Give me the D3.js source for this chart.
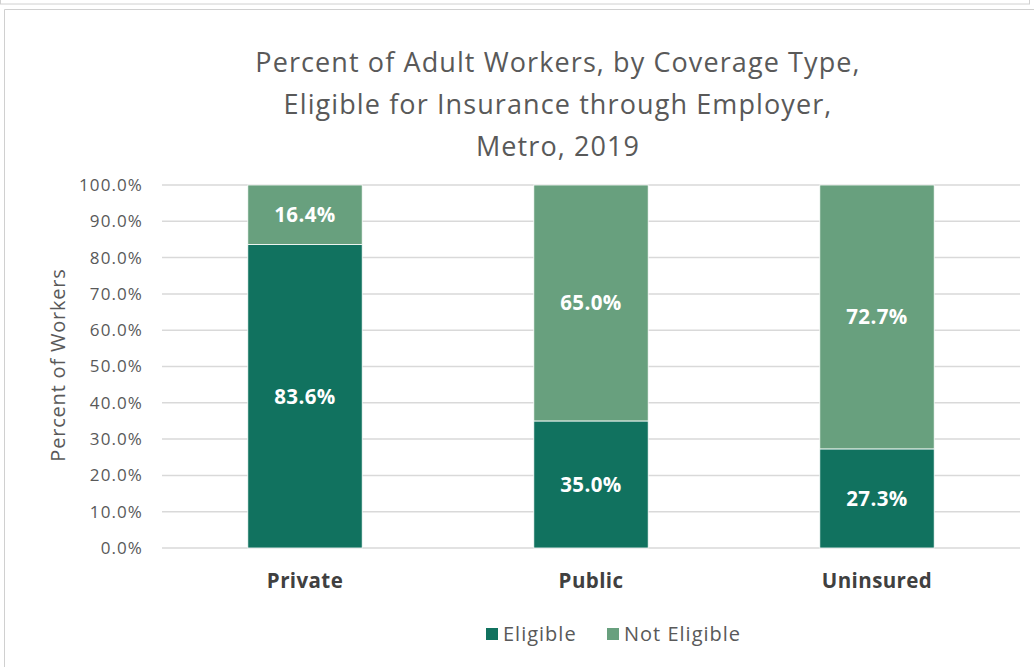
<!DOCTYPE html>
<html>
<head>
<meta charset="utf-8">
<script src="https://cdn.jsdelivr.net/npm/d3@7"></script>
<style>
  body { margin: 0; background: #fff; }
  svg text { font-family: "Open Sans", "Noto Sans", sans-serif; }
</style>
</head>
<body>
<div id="chart"></div>
<script>
// Data
const categories = ["Private", "Public", "Uninsured"];
const eligible = [83.6, 35.0, 27.3];
const notEligible = [16.4, 65.0, 72.7];
const seriesNames = ["Eligible", "Not Eligible"];
const yTicks = [0, 10, 20, 30, 40, 50, 60, 70, 80, 90, 100];
const titleLines = ["Percent of Adult Workers, by Coverage Type,", "Eligible for Insurance through Employer,", "Metro, 2019"];

const W = 1034, H = 667;
const margin = { top: 185, right: 14, bottom: 119, left: 162 };
const width = W - margin.left - margin.right,
      height = H - margin.top - margin.bottom;

const svg = d3.select("#chart").append("svg")
    .attr("width", W)
    .attr("height", H);

// Outer frames
svg.append("rect").attr("x", 0.5).attr("y", -10).attr("width", 1029).attr("height", 14)
    .attr("fill", "none").attr("stroke", "#d0d0d0");
svg.append("path").attr("d", "M4.5,667 V9.5 H1034")
    .attr("fill", "none").attr("stroke", "#d0d0d0");

const g = svg.append("g").attr("transform", `translate(${margin.left},${margin.top})`);

const x = d3.scaleBand().domain(categories).range([0, width]).paddingInner(0.6).paddingOuter(0.3);
const y = d3.scaleLinear().domain([0, 100]).range([height, 0]);
const color = d3.scaleOrdinal().domain(seriesNames).range(["#11725f", "#68a07e"]);

// Gridlines
g.append("g")
    .selectAll("line")
    .data(yTicks)
    .join("line")
    .attr("x1", 0).attr("x2", width)
    .attr("y1", d => y(d)).attr("y2", d => y(d))
    .attr("stroke", "#d9d9d9").attr("stroke-width", 1.5);

// Y axis
const yAxis = g.append("g")
    .call(d3.axisLeft(y).tickValues(yTicks).tickFormat(d => d.toFixed(1) + "%").tickSize(0).tickPadding(19));
yAxis.select(".domain").remove();
yAxis.selectAll("text").attr("fill", "#595959").style("font-size", "17px").style("letter-spacing", "1.1px");

// Stacked data
const rows = categories.map((c, i) => ({ cat: c, "Eligible": eligible[i], "Not Eligible": notEligible[i] }));
const stacked = d3.stack().keys(seriesNames)(rows);

const layers = g.selectAll("g.layer")
    .data(stacked)
    .join("g")
    .attr("class", "layer")
    .attr("fill", d => color(d.key));

layers.selectAll("rect")
    .data(d => d)
    .join("rect")
    .attr("x", d => x(d.data.cat))
    .attr("y", d => y(d[1]))
    .attr("width", x.bandwidth())
    .attr("height", d => y(d[0]) - y(d[1]))
    .attr("stroke", "#ffffff")
    .attr("stroke-width", 0.8);

// Value labels
layers.selectAll("text")
    .data(d => d)
    .join("text")
    .attr("x", d => x(d.data.cat) + x.bandwidth() / 2)
    .attr("y", d => y((d[0] + d[1]) / 2) + 7.5)
    .attr("text-anchor", "middle")
    .attr("fill", "#ffffff")
    .style("font-size", "20.5px")
    .style("font-weight", "bold")
    .style("letter-spacing", "0.4px")
    .text(d => (d[1] - d[0]).toFixed(1) + "%");

// X axis labels
const xAxis = g.append("g")
    .attr("transform", `translate(0,${height})`)
    .call(d3.axisBottom(x).tickSize(0).tickPadding(25));
xAxis.select(".domain").remove();
xAxis.selectAll("text").attr("fill", "#404040").style("font-size", "20.5px")
    .style("font-weight", "bold").style("letter-spacing", "0.4px");

// Title
svg.append("g")
    .selectAll("text")
    .data(titleLines)
    .join("text")
    .attr("x", 558)
    .attr("y", (d, i) => 72 + i * 42)
    .attr("text-anchor", "middle")
    .attr("fill", "#595959")
    .style("font-size", "27px")
    .style("letter-spacing", "1.1px")
    .text(d => d);

// Y axis title
svg.append("text")
    .attr("transform", "rotate(-90)")
    .attr("x", -365)
    .attr("y", 65)
    .attr("text-anchor", "middle")
    .attr("fill", "#595959")
    .style("font-size", "20px")
    .style("letter-spacing", "0.8px")
    .text("Percent of Workers");

// Legend
const legendX = [486, 607];
const legend = svg.selectAll(".legend")
    .data(seriesNames)
    .join("g")
    .attr("class", "legend")
    .attr("transform", (d, i) => `translate(${legendX[i]},628)`);

legend.append("rect")
    .attr("width", 12).attr("height", 12)
    .attr("fill", d => color(d));

legend.append("text")
    .attr("x", 17).attr("y", 13)
    .attr("fill", "#595959")
    .style("font-size", "20px")
    .style("letter-spacing", "1px")
    .text(d => d);
</script>
</body>
</html>
